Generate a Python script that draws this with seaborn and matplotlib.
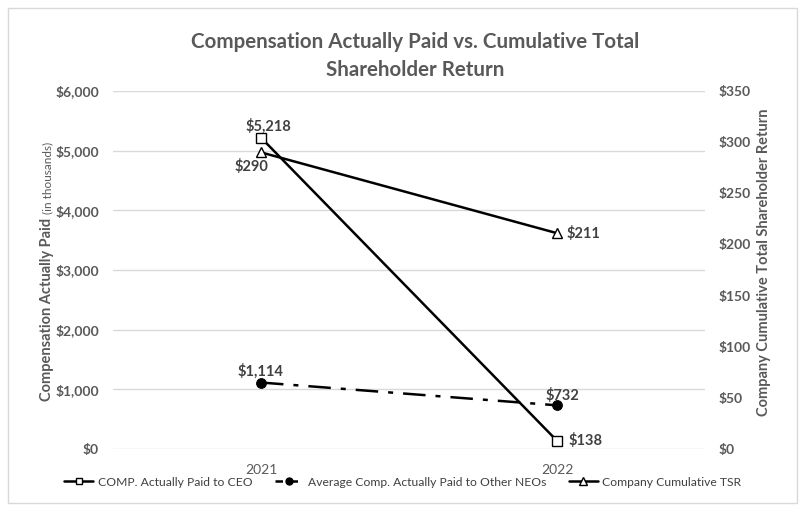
import matplotlib
matplotlib.use("Agg")
import matplotlib.pyplot as plt
import seaborn as sns
import pandas as pd
from matplotlib.patches import Rectangle
from matplotlib.lines import Line2D
from matplotlib.ticker import FuncFormatter

years = ["2021", "2022"]
ceo_cap = [5218, 138]
neo_cap = [1114, 732]
tsr = [290, 211]
left_ticks = [0, 1000, 2000, 3000, 4000, 5000, 6000]
right_ticks = [0, 50, 100, 150, 200, 250, 300, 350]

sns.set_theme(style="white")
plt.rcParams['font.family'] = ['Lato', 'DejaVu Sans']
grey = "#595959"

W, H = 807, 512
fig = plt.figure(figsize=(8.07, 5.12), dpi=100)
ax = fig.add_axes([113/W, 1-449/H, (705-113)/W, (449-91)/H])
ax2 = ax.twinx()

df = pd.DataFrame({"x": [0, 1], "year": years, "ceo": ceo_cap, "neo": neo_cap, "tsr": tsr})

sns.lineplot(data=df, x="x", y="ceo", ax=ax, color="black", lw=1.8, marker="s",
             markersize=6.5, markerfacecolor="white", markeredgecolor="black", markeredgewidth=1.0, zorder=3)
sns.lineplot(data=df, x="x", y="neo", ax=ax, color="black", lw=1.8, marker="o",
             markersize=7, markerfacecolor="black", markeredgecolor="black", zorder=3)
ax.lines[-1].set_dashes([9, 4, 2, 4])
sns.lineplot(data=df, x="x", y="tsr", ax=ax2, color="black", lw=1.8, marker="^",
             markersize=7.5, markerfacecolor="white", markeredgecolor="black", markeredgewidth=1.0, zorder=3)

ax.set_xlim(-0.5, 1.5)
ax.set_ylim(0, 6000)
ax2.set_ylim(0, 350)
ax.set_yticks(left_ticks)
ax2.set_yticks(right_ticks)
ax.yaxis.set_major_formatter(FuncFormatter(lambda v, p: f"${v:,.0f}"))
ax2.yaxis.set_major_formatter(FuncFormatter(lambda v, p: f"${v:,.0f}"))
ax.set_xticks([0, 1])
ax.set_xticklabels(years)
ax.grid(axis="y", color="#d9d9d9", lw=1)
ax.set_axisbelow(True)
for a in (ax, ax2):
    for s in a.spines.values():
        s.set_visible(False)
    a.tick_params(length=0, colors=grey, labelsize=10)
ax.tick_params(axis="y", pad=10)
ax2.tick_params(axis="y", pad=10)
ax.tick_params(axis="x", pad=11)
for lab in ax.get_yticklabels() + ax2.get_yticklabels():
    lab.set_fontweight("bold")

ax.set_xlabel("")
ax.set_ylabel("")
ax2.set_ylabel("")

t1 = fig.text(47/W, 1-401/H, "Compensation Actually Paid", rotation=90,
              ha="center", va="bottom", color=grey, fontsize=10.5, fontweight="bold")
fig.canvas.draw()
bb = t1.get_window_extent()
fig.text(48/W, (bb.y1 + 4)/H, "(in thousands)", rotation=90,
         ha="center", va="bottom", color=grey, fontsize=8.5)
fig.text(764/W, 1-262/H, "Company Cumulative Total Shareholder Return", rotation=90,
         ha="center", va="center", color=grey, fontsize=10.5, fontweight="bold")
fig.text(415/W, 1-56/H, "Compensation Actually Paid vs. Cumulative Total\nShareholder Return",
         ha="center", va="center", color=grey, fontsize=14.8, fontweight="bold", linespacing=1.45)

lbl = dict(color="#404040", fontsize=10.5, fontweight="bold")
ax.annotate(f"${ceo_cap[0]:,}", (0, ceo_cap[0]), xytext=(5, 3), textcoords="offset points", ha="center", va="bottom", **lbl)
ax.annotate(f"${ceo_cap[1]:,}", (1, ceo_cap[1]), xytext=(8, 0), textcoords="offset points", ha="left", va="center", **lbl)
ax.annotate(f"${neo_cap[0]:,}", (0, neo_cap[0]), xytext=(0, 3), textcoords="offset points", ha="center", va="bottom", **lbl)
ax.annotate(f"${neo_cap[1]:,}", (1, neo_cap[1]), xytext=(-8, 2), textcoords="offset points", ha="left", va="bottom", **lbl)
ax2.annotate(f"${tsr[0]:,}", (0, tsr[0]), xytext=(-7, -5), textcoords="offset points", ha="center", va="top", **lbl)
ax2.annotate(f"${tsr[1]:,}", (1, tsr[1]), xytext=(7, 0), textcoords="offset points", ha="left", va="center", **lbl)

handles = [
    Line2D([], [], color="black", lw=1.8, marker="s", markersize=5, markerfacecolor="white", markeredgewidth=1.0),
    Line2D([], [], color="black", lw=1.8, marker="o", markersize=5, dashes=[3, 3]),
    Line2D([], [], color="black", lw=1.8, marker="^", markersize=5.5, markerfacecolor="white", markeredgewidth=1.0),
]
labels = ["COMP. Actually Paid to CEO", "Average Comp. Actually Paid to Other NEOs", "Company Cumulative TSR"]
leg = fig.legend(handles, labels, loc="center", bbox_to_anchor=(403/W, 1-482/H), ncol=3, frameon=False,
                 fontsize=8.7, handlelength=2.4, columnspacing=1.8, handletextpad=0.4)
for t in leg.get_texts():
    t.set_color("#404040")

fig.patches.append(Rectangle((8/W, 1-503/H), 789/W, 495/H, transform=fig.transFigure,
                             fill=False, edgecolor="#d9d9d9", lw=1))

fig.savefig("out.png", dpi=100)
